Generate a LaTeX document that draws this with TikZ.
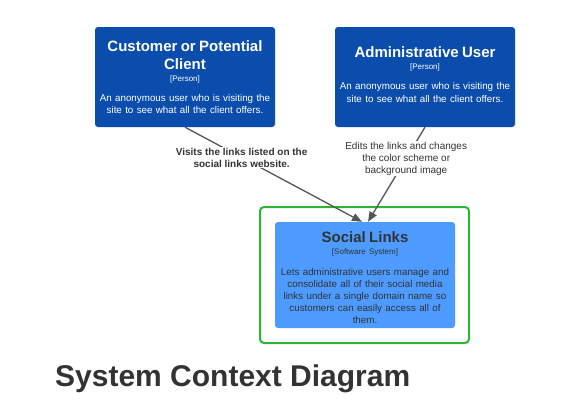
\documentclass[tikz,border=0pt]{standalone}
\usepackage{fontspec}
\setmainfont{Liberation Sans}
\usetikzlibrary{arrows.meta}
\definecolor{darkblue}{HTML}{0B4DAC}
\definecolor{lightblue}{HTML}{4D9BFF}
\definecolor{boundgreen}{HTML}{2BB532}
\definecolor{textgray}{HTML}{333333}
\definecolor{linegray}{HTML}{555555}
\tikzset{
  person/.style={fill=darkblue, rounded corners=3pt, minimum width=180pt, minimum height=100pt,
    text width=176pt, align=center, text=white, inner sep=0pt},
  system/.style={fill=lightblue, rounded corners=3pt, minimum width=180pt, minimum height=106pt,
    text width=176pt, align=center, text=textgray, inner sep=0pt},
  boundary/.style={draw=boundgreen, line width=2pt, rounded corners=4pt, minimum width=209pt, minimum height=136pt},
  rel/.style={draw=linegray, line width=1.3pt, -{Triangle[length=10pt,width=8pt]}},
  rellabel/.style={fill=white, text=textgray, align=center, inner sep=1pt, font=\fontsize{10}{12}\selectfont}
}
\newcommand{\elttitle}[1]{{\fontsize{15}{18}\selectfont\bfseries #1\par}}
\newcommand{\elttype}[1]{{\fontsize{8}{12}\selectfont #1\par}\vspace{8pt}}
\newcommand{\eltdesc}[1]{{\fontsize{9.8}{12.2}\selectfont #1\par}}
\begin{document}
\begin{tikzpicture}[x=1pt,y=-1pt]
\useasboundingbox (0,0) rectangle (572,416);
\node[boundary] (bnd) at (364.5,275) {};
\node[person] (cust) at (185,77) {\elttitle{Customer or Potential\\Client}\elttype{[Person]}\eltdesc{An anonymous user who is visiting the\\site to see what all the client offers.}};
\node[person] (admin) at (425,77) {\elttitle{Administrative User}\elttype{[Person]}\eltdesc{An anonymous user who is visiting the\\site to see what all the client offers.\rule[-5pt]{0pt}{0pt}}};
\node[system] (sl) at (365,275) {\elttitle{\rule{0pt}{17pt}Social Links}\elttype{[Software System]}\eltdesc{Lets administrative users manage and\\consolidate all of their social media\\links under a single domain name so\\customers can easily access all of\\them.}};
\draw[rel] (cust.south) -- node[rellabel, pos=0.32] (l1) {\bfseries Visits the links listed on the\\\bfseries social links website.} ([xshift=-3pt]sl.north);
\draw[rel] (admin.south) -- node[rellabel, pos=0.33] (l2) {Edits the links and changes\\the color scheme or\\background image} ([xshift=3pt]sl.north);
\node[anchor=base west, inner sep=0pt, text=textgray, font=\fontsize{30}{34}\selectfont\bfseries] (title) at (55,386) {System Context Diagram};
\end{tikzpicture}
\end{document}
